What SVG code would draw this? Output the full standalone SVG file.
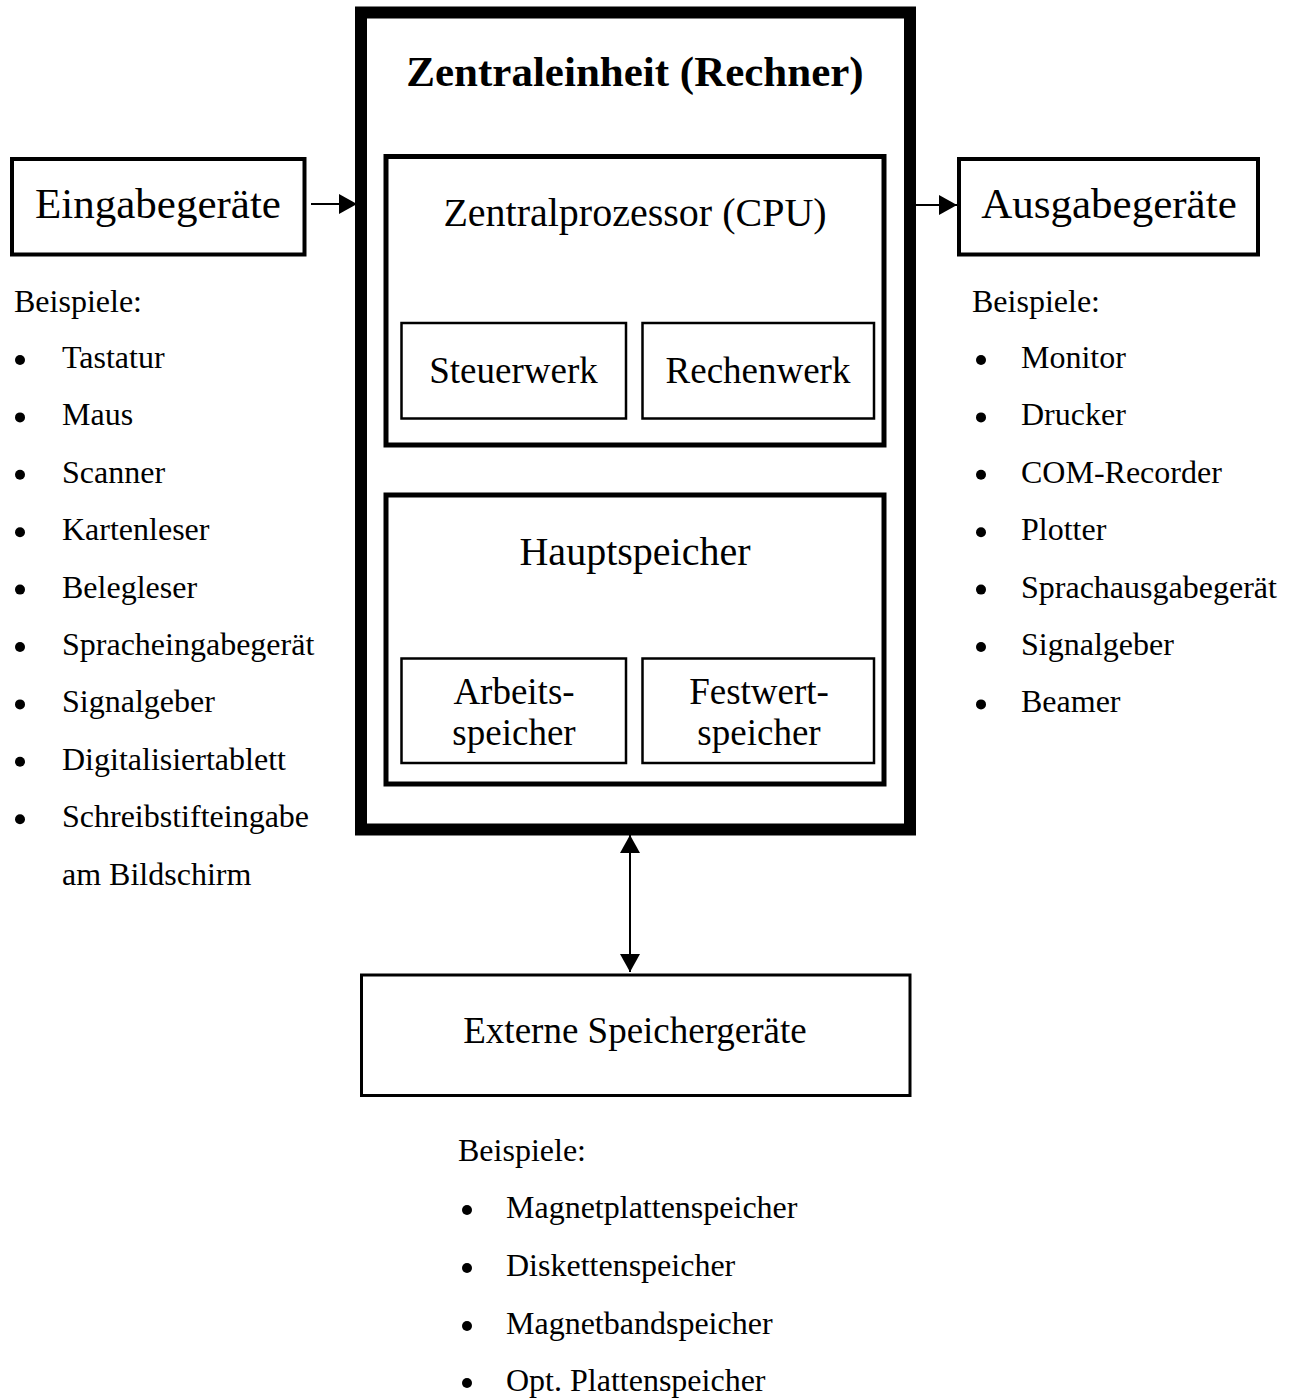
<svg xmlns="http://www.w3.org/2000/svg" width="1292" height="1398" viewBox="0 0 1292 1398">
<style>
.box{fill:#fff;stroke:#000}
.t{font-family:"Liberation Serif","Times New Roman",serif;fill:#000}
.big{font-size:43px;text-anchor:middle}
.mid{font-size:37px;text-anchor:middle}
.hd{font-size:40px;text-anchor:middle}
.li{font-size:32px}
.title{font-size:43px;font-weight:bold;text-anchor:middle}
.ln{stroke:#000;stroke-width:2;fill:none}
</style>
<defs>
<marker id="ah" markerWidth="18" markerHeight="20" refX="18" refY="10" orient="auto" markerUnits="userSpaceOnUse">
<path d="M0,0 L18,10 L0,20 Z" fill="#000"/>
</marker>
</defs>
<g id="zentraleinheit">
<rect class="box" x="361" y="12.5" width="549" height="817" stroke-width="12"/>
<text class="t title" x="635" y="86">Zentraleinheit (Rechner)</text>
</g>
<g id="cpu">
<rect class="box" x="386" y="156.5" width="498" height="288.5" stroke-width="5"/>
<text class="t hd" x="635" y="226">Zentralprozessor (CPU)</text>
</g>
<g id="steuerwerk">
<rect class="box" x="401.5" y="323" width="224.5" height="95.5" stroke-width="2.5"/>
<text class="t mid" x="513.5" y="383">Steuerwerk</text>
</g>
<g id="rechenwerk">
<rect class="box" x="642.5" y="323" width="231.5" height="95.5" stroke-width="2.5"/>
<text class="t mid" x="758" y="383">Rechenwerk</text>
</g>
<g id="hauptspeicher">
<rect class="box" x="386" y="495" width="498" height="289" stroke-width="5"/>
<text class="t hd" x="635" y="565">Hauptspeicher</text>
</g>
<g id="arbeitsspeicher">
<rect class="box" x="401.5" y="658.5" width="224.5" height="104.5" stroke-width="2.5"/>
<text class="t mid" x="514" y="704">Arbeits-</text>
<text class="t mid" x="514" y="745">speicher</text>
</g>
<g id="festwertspeicher">
<rect class="box" x="642.5" y="658.5" width="231.5" height="104.5" stroke-width="2.5"/>
<text class="t mid" x="759" y="704">Festwert-</text>
<text class="t mid" x="759" y="745">speicher</text>
</g>
<g id="eingabegeraete">
<rect class="box" x="12" y="159" width="292.5" height="95.5" stroke-width="4"/>
<text class="t big" x="158" y="218">Eingabegeräte</text>
</g>
<g id="ausgabegeraete">
<rect class="box" x="959" y="159" width="299" height="95.5" stroke-width="4"/>
<text class="t big" x="1109" y="218">Ausgabegeräte</text>
</g>
<g id="externe">
<rect class="box" x="361.5" y="975" width="548.5" height="120.5" stroke-width="3"/>
<text class="t mid" x="635" y="1043">Externe Speichergeräte</text>
</g>
<g id="connectors">
<line class="ln" x1="311" y1="204" x2="357" y2="204" marker-end="url(#ah)"/>
<line class="ln" x1="916" y1="205" x2="957" y2="205" marker-end="url(#ah)"/>
<line class="ln" x1="630" y1="940" x2="630" y2="835" marker-end="url(#ah)"/>
<line class="ln" x1="630" y1="860" x2="630" y2="972" marker-end="url(#ah)"/>
</g>
<g id="liste-eingabe" class="t li">
<text x="14" y="312">Beispiele:</text>
<g fill="#000">
<circle cx="20" cy="360" r="5"/><circle cx="20" cy="417.4" r="5"/><circle cx="20" cy="474.8" r="5"/><circle cx="20" cy="532.2" r="5"/><circle cx="20" cy="589.6" r="5"/><circle cx="20" cy="647" r="5"/><circle cx="20" cy="704.4" r="5"/><circle cx="20" cy="761.8" r="5"/><circle cx="20" cy="819.2" r="5"/>
</g>
<text x="62" y="368">Tastatur</text>
<text x="62" y="425.4">Maus</text>
<text x="62" y="482.8">Scanner</text>
<text x="62" y="540.2">Kartenleser</text>
<text x="62" y="597.6">Belegleser</text>
<text x="62" y="655">Spracheingabegerät</text>
<text x="62" y="712.4">Signalgeber</text>
<text x="62" y="769.8">Digitalisiertablett</text>
<text x="62" y="827.2">Schreibstifteingabe</text>
<text x="62" y="884.6">am Bildschirm</text>
</g>
<g id="liste-ausgabe" class="t li">
<text x="972" y="312">Beispiele:</text>
<g fill="#000">
<circle cx="981" cy="360" r="5"/><circle cx="981" cy="417.4" r="5"/><circle cx="981" cy="474.8" r="5"/><circle cx="981" cy="532.2" r="5"/><circle cx="981" cy="589.6" r="5"/><circle cx="981" cy="647" r="5"/><circle cx="981" cy="704.4" r="5"/>
</g>
<text x="1021" y="368">Monitor</text>
<text x="1021" y="425.4">Drucker</text>
<text x="1021" y="482.8">COM-Recorder</text>
<text x="1021" y="540.2">Plotter</text>
<text x="1021" y="597.6">Sprachausgabegerät</text>
<text x="1021" y="655">Signalgeber</text>
<text x="1021" y="712.4">Beamer</text>
</g>
<g id="liste-speicher" class="t li">
<text x="458" y="1161">Beispiele:</text>
<g fill="#000">
<circle cx="467" cy="1210" r="5"/><circle cx="467" cy="1268" r="5"/><circle cx="467" cy="1326" r="5"/><circle cx="467" cy="1383" r="5"/>
</g>
<text x="506" y="1218">Magnetplattenspeicher</text>
<text x="506" y="1276">Diskettenspeicher</text>
<text x="506" y="1334">Magnetbandspeicher</text>
<text x="506" y="1391">Opt. Plattenspeicher</text>
</g>
</svg>
